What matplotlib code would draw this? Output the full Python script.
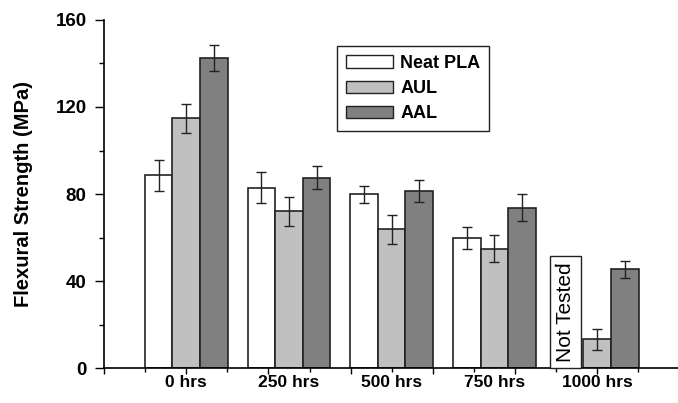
import matplotlib
matplotlib.use("Agg")
import matplotlib.pyplot as plt
from matplotlib.patches import Patch
import numpy as np

plt.rcParams['font.family'] = ['Liberation Sans', 'DejaVu Sans']
plt.rcParams['font.weight'] = 'bold'

# data
groups = ['0 hrs', '250 hrs', '500 hrs', '750 hrs', '1000 hrs']
series = ['Neat PLA', 'AUL', 'AAL']
neat_pla = [88.6, 82.9, 79.8, 59.8, np.nan]   # 1000 hrs not tested
neat_pla_err = [7.0, 7.0, 4.0, 5.2, np.nan]
aul = [114.8, 72.0, 63.7, 54.9, 13.2]
aul_err = [6.8, 6.7, 6.5, 6.3, 4.9]
aal = [142.5, 87.5, 81.4, 73.7, 45.4]
aal_err = [5.9, 5.2, 5.2, 6.2, 4.0]
colors = ['white', '#c0c0c0', '#808080']

fig = plt.figure(figsize=(6.78, 4.03), dpi=100)
ax = fig.add_axes([0.1534, 0.0868, 0.8466, 0.8636])

x = np.arange(1, len(groups) + 1)
w = 0.268
vals = [neat_pla, aul, aal]
errs = [neat_pla_err, aul_err, aal_err]
for i, (v, e, c) in enumerate(zip(vals, errs, colors)):
    ax.bar(x + (i - 1) * w, v, w, color=c, edgecolor='#222222', linewidth=1.2, zorder=2)
    ax.errorbar(x + (i - 1) * w, v, yerr=e, fmt='none', ecolor='#222222',
                elinewidth=1.0, capsize=3.3, capthick=1.0, zorder=3)

# "Not Tested" box in the empty Neat PLA slot at 1000 hrs
ax.annotate('Not Tested', xy=(x[-1] - w - 0.04, 0), xytext=(0, 4.6),
            textcoords='offset points', rotation=90, ha='center', va='bottom',
            fontsize=15, fontweight='normal',
            bbox=dict(boxstyle='square,pad=0.3', fc='white', ec='#222222', lw=1.0),
            zorder=4)
ax.annotate('*', xy=(x[-1] - w - 0.04, 0), xytext=(-7.5, 73),
            textcoords='offset points', ha='center', va='center',
            fontsize=6, fontweight='normal', zorder=5)

ax.set_ylim(0, 160)
ax.set_xlim(0.2, 5.786)
ax.set_yticks([0, 40, 80, 120, 160])
ax.set_yticks([20, 60, 100, 140], minor=True)
ax.set_xticks(np.arange(0.2, 5.8, 0.8))
ax.set_xticks(np.arange(0.6, 5.8, 0.8), minor=True)
ax.set_xticklabels([])
ax.tick_params(axis='y', which='major', length=6.5, width=1.0, pad=6, labelsize=13.5)
ax.tick_params(axis='y', which='minor', length=3.5, width=1.0)
ax.tick_params(axis='x', which='major', length=4.5, width=1.0)
ax.tick_params(axis='x', which='minor', length=3.0, width=1.0)

sec = ax.secondary_xaxis('bottom')
sec.set_xticks(x)
sec.set_xticklabels(groups, fontsize=12.5, fontweight='bold')
sec.tick_params(length=0, pad=5)
sec.spines['bottom'].set_visible(False)

for s in ['top', 'right']:
    ax.spines[s].set_visible(False)
for s in ['left', 'bottom']:
    ax.spines[s].set_linewidth(1.2)

ax.set_ylabel('Flexural Strength (MPa)', fontsize=14.5, fontweight='bold')
ax.yaxis.set_label_coords(-0.124, 0.5)

handles = [Patch(facecolor=c, edgecolor='#222222', linewidth=1.0) for c in colors]
leg = ax.legend(handles, series, loc='upper left', bbox_to_anchor=(0.406, 0.925),
                borderaxespad=0, fancybox=False, framealpha=1, edgecolor='#222222',
                prop={'size': 13, 'weight': 'bold'}, handlelength=2.6, handleheight=0.7,
                handletextpad=0.4, labelspacing=0.45, borderpad=0.5)
leg.get_frame().set_linewidth(1.0)

fig.savefig('out.png', dpi=100)
